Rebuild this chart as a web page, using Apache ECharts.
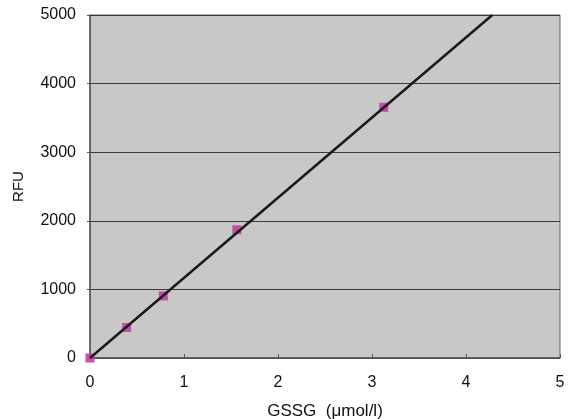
<!DOCTYPE html>
<html><head><meta charset="utf-8">
<script src="https://cdn.jsdelivr.net/npm/echarts@6/dist/echarts.min.js"></script>
<style>html,body{margin:0;padding:0;background:#fff}#c{width:569px;height:419px}</style>
</head><body><div id="c"></div>
<script>
const conc = [0, 0.39, 0.78, 1.5625, 3.125];
const rfu = [0, 445, 905, 1870, 3655];
const fitX = [0, 4.28];
const fitY = [0, 5000];
const xTicks = [0, 1, 2, 3, 4, 5];
const yTicks = [0, 1000, 2000, 3000, 4000, 5000];

const chart = echarts.init(document.getElementById('c'));
const lab = {color:'#111', fontSize:16, fontFamily:'Liberation Sans, Arial, sans-serif'};
chart.setOption({
  animation:false,
  backgroundColor:'#fff',
  grid:{left:90, right:9, top:15, bottom:61, show:true, backgroundColor:'#c8c8c8', borderColor:'#666', borderWidth:1, outerBoundsMode:'none', containLabel:false},
  xAxis:{type:'value', min:0, max:5, interval:1,
    name:'GSSG  (μmol/l)', nameLocation:'middle', nameGap:45,
    nameTextStyle:{color:'#111', fontSize:17, fontFamily:'Liberation Sans, Arial, sans-serif'},
    axisLine:{show:true, lineStyle:{color:'#555', width:1.5}},
    axisTick:{show:true, inside:true, length:4, lineStyle:{color:'#555'}},
    axisLabel:Object.assign({margin:17, formatter:v=>xTicks.includes(v)?String(v):''}, lab),
    splitLine:{show:false}},
  yAxis:{type:'value', min:0, max:5000, interval:1000,
    name:'RFU', nameLocation:'middle', nameGap:64, nameRotate:90,
    nameTextStyle:{color:'#111', fontSize:15, fontFamily:'Liberation Sans, Arial, sans-serif'},
    axisLine:{show:true, lineStyle:{color:'#555', width:1.5}},
    axisTick:{show:true, inside:false, length:3, lineStyle:{color:'#555'}},
    axisLabel:Object.assign({margin:14, formatter:v=>yTicks.includes(v)?String(v):''}, lab),
    splitLine:{show:true, lineStyle:{color:'#3a3a3a', width:1}}},
  series:[
    {type:'line', data:fitX.map((x,i)=>[x,fitY[i]]), symbol:'none', lineStyle:{color:'#1a1a1a', width:2.5}, z:3},
    {type:'scatter', data:conc.map((x,i)=>[x,rfu[i]]), symbol:'rect', symbolSize:9, itemStyle:{color:'#c040a0', opacity:0.9}, z:2}
  ]
});
</script></body></html>
